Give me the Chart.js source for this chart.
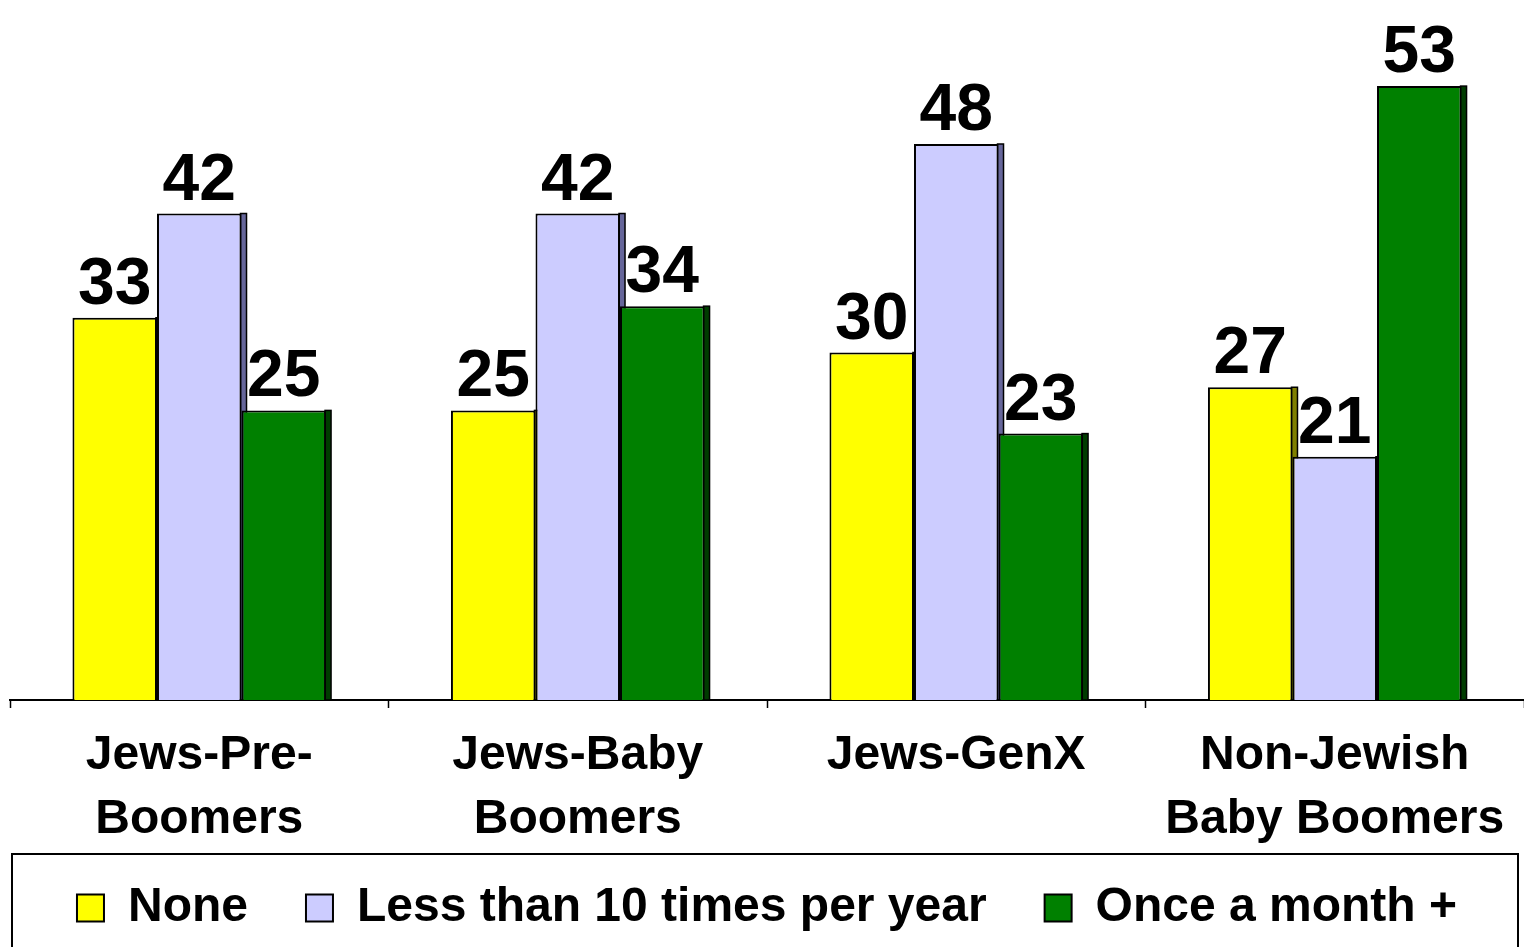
<!DOCTYPE html>
<html>
<head>
<meta charset="utf-8">
<style>
  html, body { margin: 0; padding: 0; background: #fff; overflow: hidden; }
  #wrap { width: 1524px; height: 947px; }
</style>
<script src="https://cdn.jsdelivr.net/npm/chart.js@4/dist/chart.umd.min.js"></script>
</head>
<body>
<div id="wrap"><canvas id="chart"></canvas></div>
<script>
const categories = [['Jews-Pre-', 'Boomers'], ['Jews-Baby', 'Boomers'], ['Jews-GenX'], ['Non-Jewish', 'Baby Boomers']];
const seriesNames = ['None', 'Less than 10 times per year', 'Once a month +'];
const noneValues = [33, 25, 30, 27];
const lessValues = [42, 42, 48, 21];
const monthlyValues = [25, 34, 23, 53];

const fillColors = ['#ffff00', '#ccccff', '#008000'];
const sideColors = ['#808000', '#66669a', '#003c00'];
const FONT = "'Liberation Sans', Arial, sans-serif";

// dark strip on the right of each bar, drawn first so the next bar covers it
const barSides = {
    id: 'barSides',
    beforeDatasetsDraw(chart) {
        const ctx = chart.ctx;
        ctx.save();
        chart.data.datasets.forEach((ds, i) => {
            chart.getDatasetMeta(i).data.forEach(bar => {
                const x = bar.x + bar.width / 2;
                ctx.fillStyle = sideColors[i];
                ctx.fillRect(x - 1, bar.y, 6, bar.base - bar.y);
                ctx.strokeStyle = '#000';
                ctx.lineWidth = 1.5;
                ctx.strokeRect(x - 1, bar.y, 6, bar.base - bar.y);
            });
        });
        ctx.restore();
    }
};

const valueLabels = {
    id: 'valueLabels',
    afterDatasetsDraw(chart) {
        const ctx = chart.ctx;
        ctx.save();
        ctx.font = 'bold 66px ' + FONT;
        ctx.fillStyle = '#000';
        ctx.textAlign = 'center';
        ctx.textBaseline = 'alphabetic';
        chart.data.datasets.forEach((ds, i) => {
            chart.getDatasetMeta(i).data.forEach((bar, j) => {
                ctx.fillText(ds.data[j], bar.x, bar.y - 14);
            });
        });
        ctx.restore();
    }
};

// let the two-line category labels run past the short axis box
const axisRoom = {
    id: 'axisRoom',
    afterLayout(chart) {
        chart.scales.x.bottom = chart.height;
    }
};

const legendFrame = {
    id: 'legendFrame',
    afterDraw(chart) {
        const ctx = chart.ctx;
        ctx.save();
        ctx.strokeStyle = '#000';
        ctx.lineWidth = 2;
        ctx.strokeRect(12, 854, chart.width - 18, 120);
        ctx.restore();
    }
};

const datasets = [noneValues, lessValues, monthlyValues].map((vals, i) => ({
    label: seriesNames[i],
    data: vals,
    backgroundColor: fillColors[i],
    borderColor: '#000',
    borderWidth: 2,
    barPercentage: 1,
    categoryPercentage: 0.67
}));

new Chart(document.getElementById('chart'), {
    type: 'bar',
    data: { labels: categories, datasets: datasets },
    options: {
        responsive: true,
        maintainAspectRatio: false,
        animation: false,
        layout: { padding: { top: 5, left: 10, right: 0, bottom: 5 } },
        plugins: {
            tooltip: { enabled: false },
            legend: {
                position: 'bottom',
                labels: {
                    color: '#000',
                    font: { family: FONT, size: 48, weight: 'bold' },
                    boxWidth: 27,
                    boxHeight: 27,
                    padding: 58
                }
            }
        },
        scales: {
            x: {
                grid: {
                    drawOnChartArea: false,
                    color: '#000',
                    tickLength: 8,
                    tickWidth: 1.5
                },
                border: { display: true, color: '#000', width: 2 },
                ticks: {
                    color: '#000',
                    padding: 16,
                    maxRotation: 0,
                    autoSkip: false,
                    font: { family: FONT, size: 48, weight: 'bold', lineHeight: 1.33 }
                },
                afterFit(scale) { scale.height = 126; }
            },
            y: {
                display: false,
                min: 0,
                max: 60
            }
        }
    },
    plugins: [barSides, valueLabels, axisRoom, legendFrame]
});
</script>
</body>
</html>
